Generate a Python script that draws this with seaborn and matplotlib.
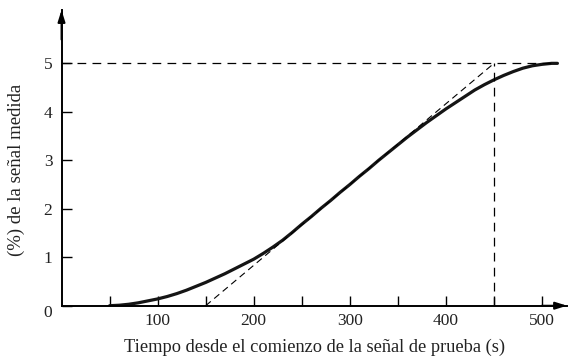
import matplotlib
matplotlib.use("Agg")
import matplotlib.pyplot as plt
from matplotlib.transforms import ScaledTranslation
import seaborn as sns
import pandas as pd

tiempo = [50, 60, 70, 80, 90, 100, 110, 120, 130, 140, 150, 160, 170, 180, 190,
          200, 210, 220, 230, 240, 250, 260, 270, 280, 290, 300, 310, 320, 330,
          340, 350, 360, 370, 380, 390, 400, 410, 420, 430, 440, 450, 460, 470,
          480, 490, 500, 510, 516]
senal = [0.0, 0.01, 0.03, 0.06, 0.10, 0.14, 0.19, 0.25, 0.32, 0.40, 0.48, 0.57,
         0.66, 0.76, 0.86, 0.96, 1.08, 1.21, 1.35, 1.51, 1.68, 1.84, 2.01, 2.17,
         2.34, 2.50, 2.67, 2.83, 3.00, 3.16, 3.32, 3.48, 3.63, 3.78, 3.92, 4.06,
         4.19, 4.32, 4.45, 4.56, 4.66, 4.75, 4.83, 4.90, 4.95, 4.98, 5.00, 5.00]

# tangent at the inflection point
tangente_x = [150, 450]
tangente_y = [0, 5]

nivel_final = 5
t_final = 450

x_ticks_major = [100, 200, 300, 400, 500]
x_ticks_minor = [50, 150, 250, 350, 450]
y_ticks = [0, 1, 2, 3, 4, 5]

df = pd.DataFrame({"t": tiempo, "s": senal})

sns.set_style("ticks")
plt.rcParams["font.family"] = ["Liberation Serif", "DejaVu Serif"]

fig = plt.figure(figsize=(5.68, 3.62), dpi=100)
ax = fig.add_axes([0.1083, 0.1555, 0.890, 0.8168])

sns.lineplot(data=df, x="t", y="s", ax=ax, color="#151515", linewidth=2.3)

ax.plot(tangente_x, tangente_y, color="black", linewidth=0.8, dashes=(6, 4))
ax.plot([0, 516], [nivel_final, nivel_final], color="black", linewidth=0.9, dashes=(7, 5))
ax.plot([t_final, t_final], [0, nivel_final], color="black", linewidth=0.9, dashes=(7, 5))

ax.set_xlim(0, 526)
ax.set_ylim(0, 6.1)
ax.set_xticks(x_ticks_major)
ax.set_xticks(x_ticks_minor, minor=True)
ax.set_yticks(y_ticks)
ax.tick_params(axis="both", which="both", direction="in", length=7, width=1,
               labelsize=12.5, color="black", labelcolor="#222222")
ax.tick_params(axis="x", pad=5)
ax.tick_params(axis="y", pad=6.5)

# the "0" sits a little below the x axis in the original
cero = ax.get_yticklabels()[0]
cero.set_transform(cero.get_transform() + ScaledTranslation(0, -4 / 72, fig.dpi_scale_trans))

sns.despine(ax=ax)
for sp in ["left", "bottom"]:
    ax.spines[sp].set_linewidth(1.4)
    ax.spines[sp].set_color("black")

arrow = dict(arrowstyle="-|>,head_length=0.7,head_width=0.22", color="black",
             lw=1.4, shrinkA=0, shrinkB=0)
ax.annotate("", xy=(0, 1.0), xycoords="axes fraction", xytext=(0, 0.9),
            arrowprops=arrow, annotation_clip=False)
ax.annotate("", xy=(1.0, 0), xycoords="axes fraction", xytext=(0.95, 0),
            arrowprops=arrow, annotation_clip=False)

ax.set_xlabel("Tiempo desde el comienzo de la señal de prueba (s)", fontsize=13.2,
              color="#222222", labelpad=7)
ax.set_ylabel("(%) de la señal medida", fontsize=13.5, color="#222222", labelpad=10)
ax.yaxis.set_label_coords(-0.072, 0.46)

fig.savefig("out.png", dpi=100)
